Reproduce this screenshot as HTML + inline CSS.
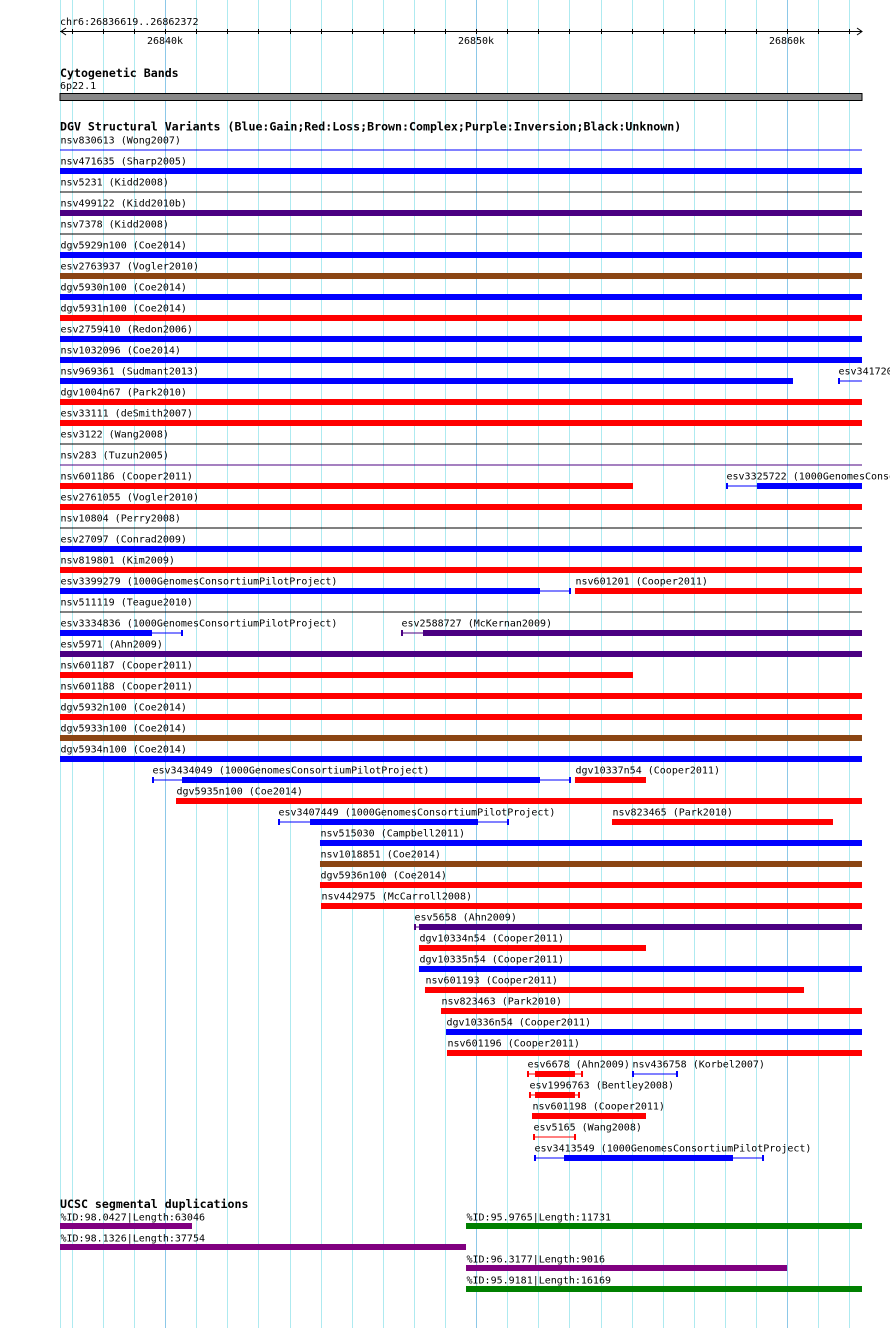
<!DOCTYPE html>
<html><head><meta charset="utf-8"><style>
html,body{margin:0;padding:0;background:#fff;}
svg{display:block;}
text{font-family:"DejaVu Sans Mono","Liberation Mono",monospace;font-size:10px;fill:#000;}
.hdr{font-weight:bold;font-size:11.6px;}
</style></head><body>
<svg id="chart" width="890" height="1328" xmlns="http://www.w3.org/2000/svg">
<g id="grid"></g>
<g id="axis"></g>
<g id="tracks"></g>
</svg>
<script>
const viewStart = 26836.619, viewEnd = 26862.372;
const axisTicks = [26837,26838,26839,26840,26841,26842,26843,26844,26845,26846,26847,26848,26849,26850,26851,26852,26853,26854,26855,26856,26857,26858,26859,26860,26861,26862];
const axisLabels = [26840,26850,26860];
// DGV features
const featRow = [0,1,2,3,4,5,6,7,8,9,10,11,11,12,13,14,15,16,16,17,18,19,20,21,21,22,23,23,24,25,26,27,28,29,30,30,31,32,32,33,34,35,36,37,38,39,40,41,42,43,44,44,45,46,47,48];
const featName = ["nsv830613 (Wong2007)","nsv471635 (Sharp2005)","nsv5231 (Kidd2008)","nsv499122 (Kidd2010b)","nsv7378 (Kidd2008)","dgv5929n100 (Coe2014)","esv2763937 (Vogler2010)","dgv5930n100 (Coe2014)","dgv5931n100 (Coe2014)","esv2759410 (Redon2006)","nsv1032096 (Coe2014)","nsv969361 (Sudmant2013)","esv3417200 (1000GenomesConsortiumPilotProject)","dgv1004n67 (Park2010)","esv33111 (deSmith2007)","esv3122 (Wang2008)","nsv283 (Tuzun2005)","nsv601186 (Cooper2011)","esv3325722 (1000GenomesConsortiumPilotProject)","esv2761055 (Vogler2010)","nsv10804 (Perry2008)","esv27097 (Conrad2009)","nsv819801 (Kim2009)","esv3399279 (1000GenomesConsortiumPilotProject)","nsv601201 (Cooper2011)","nsv511119 (Teague2010)","esv3334836 (1000GenomesConsortiumPilotProject)","esv2588727 (McKernan2009)","esv5971 (Ahn2009)","nsv601187 (Cooper2011)","nsv601188 (Cooper2011)","dgv5932n100 (Coe2014)","dgv5933n100 (Coe2014)","dgv5934n100 (Coe2014)","esv3434049 (1000GenomesConsortiumPilotProject)","dgv10337n54 (Cooper2011)","dgv5935n100 (Coe2014)","esv3407449 (1000GenomesConsortiumPilotProject)","nsv823465 (Park2010)","nsv515030 (Campbell2011)","nsv1018851 (Coe2014)","dgv5936n100 (Coe2014)","nsv442975 (McCarroll2008)","esv5658 (Ahn2009)","dgv10334n54 (Cooper2011)","dgv10335n54 (Cooper2011)","nsv601193 (Cooper2011)","nsv823463 (Park2010)","dgv10336n54 (Cooper2011)","nsv601196 (Cooper2011)","esv6678 (Ahn2009)","nsv436758 (Korbel2007)","esv1996763 (Bentley2008)","nsv601198 (Cooper2011)","esv5165 (Wang2008)","esv3413549 (1000GenomesConsortiumPilotProject)"];
const featStart = [26836,26836,26836,26836,26836,26836,26836,26836,26836,26836,26836,26836,26861.635,26836,26836,26836,26836,26836,26858.034,26836,26836,26836,26836,26836,26853.178,26836,26836,26847.584,26836,26836,26836,26836,26836,26836,26839.577,26853.178,26840.349,26843.629,26854.368,26844.979,26844.979,26844.979,26845.011,26848.002,26848.162,26848.162,26848.355,26848.870,26849.031,26849.063,26851.635,26855.011,26851.699,26851.796,26851.828,26851.860];
const featEnd = [26863,26863,26863,26863,26863,26863,26863,26863,26863,26863,26863,26860.188,26863,26863,26863,26863,26863,26855.043,26863,26863,26863,26863,26863,26853.050,26863,26863,26840.574,26863,26863,26855.043,26863,26863,26863,26863,26853.050,26855.461,26863,26851.056,26861.474,26863,26863,26863,26863,26863,26855.461,26863,26860.542,26863,26863,26863,26853.436,26856.490,26853.339,26855.461,26853.211,26859.256];
const featThickStart = [null,26836,null,26836,null,26836,26836,26836,26836,26836,26836,26836,null,26836,26836,null,null,26836,26859.031,26836,null,26836,26836,26836,26853.178,null,26836,26848.291,26836,26836,26836,26836,26836,26836,26840.542,26853.178,26840.349,26844.658,26854.368,26844.979,26844.979,26844.979,26845.011,26848.162,26848.162,26848.162,26848.355,26848.870,26849.031,26849.063,26851.892,null,26851.892,26851.796,null,26852.825];
const featThickEnd = [null,26863,null,26863,null,26863,26863,26863,26863,26863,26863,26860.188,null,26863,26863,null,null,26855.043,26863,26863,null,26863,26863,26852.053,26863,null,26839.577,26863,26863,26855.043,26863,26863,26863,26863,26852.053,26855.461,26863,26850.060,26861.474,26863,26863,26863,26863,26863,26855.461,26863,26860.542,26863,26863,26863,26853.178,null,26853.178,26855.461,null,26858.259];
const featType = ["gain","gain","unknown","inversion","unknown","gain","complex","gain","loss","gain","gain","gain","gain","loss","loss","unknown","inversion","loss","gain","loss","unknown","gain","loss","gain","loss","unknown","gain","inversion","inversion","loss","loss","loss","complex","gain","gain","loss","loss","gain","loss","gain","complex","loss","loss","inversion","loss","gain","loss","loss","gain","loss","loss","gain","loss","loss","loss","gain"];
// segmental duplications
const segRow = [0,0,1,2,3];
const segId = ["98.0427","95.9765","98.1326","96.3177","95.9181"];
const segLen = ["63046","11731","37754","9016","16169"];
const segStart = [26836.6,26849.674,26836.6,26849.674,26849.674];
const segEnd = [26840.863,26863,26849.674,26859.995,26863];
const segColor = ["purple","green","purple","purple","green"];

const X0 = 60, X1 = 862, PX = 31.1;
const colors = {gain:"#0000ff",loss:"#ff0000",complex:"#8b4513",inversion:"#4b0082",unknown:"#000000",purple:"#800080",green:"#008000"};
const NS = "http://www.w3.org/2000/svg";
function xs(kb){ return X0 + (kb - viewStart) * PX; }
function cx(v){ return Math.max(X0, Math.min(X1, v)); }
function mk(parent, tag, attrs){ const e=document.createElementNS(NS,tag); for(const k in attrs) e.setAttribute(k,attrs[k]); parent.appendChild(e); return e; }

const grid = document.getElementById('grid');
let gl = mk(grid,'rect',{x:60,y:0,width:1,height:1328,fill:"#aeeaf0"});


axisTicks.forEach(t=>{
  const major = axisLabels.includes(t);
  const r = mk(grid,'rect',{x:Math.round(xs(t)),y:0,width:1,height:1328,fill:major?"#8cc8e8":"#aeeaf0"});
  
  
});

const axis = document.getElementById('axis');
let t0 = mk(axis,'text',{x:60,y:25}); t0.textContent="chr6:26836619..26862372";


let al = mk(axis,'rect',{x:60,y:31,width:802,height:1,fill:"#000"});


let la = mk(axis,'path',{d:"M66,28 L61,31.5 L66,35",stroke:"#000",fill:"none"});


let ra = mk(axis,'path',{d:"M857,28 L862,31.5 L857,35",stroke:"#000",fill:"none"});


axisTicks.forEach(t=>{
  const tk = mk(axis,'rect',{x:Math.round(xs(t)),y:29,width:1,height:5,fill:"#000"});
  
  
});
axisLabels.forEach(t=>{
  const tx = mk(axis,'text',{x:Math.round(xs(t)),y:44,'text-anchor':'middle'});
  tx.textContent = t + "k";
  
  
});

const tracks = document.getElementById('tracks');
let h1 = mk(tracks,'text',{x:60,y:77,class:'hdr'}); h1.textContent="Cytogenetic Bands";


let bl = mk(tracks,'text',{x:60,y:89}); bl.textContent="6p22.1";


let band = mk(tracks,'rect',{x:60,y:93.5,width:802,height:7,fill:"#888",stroke:"#000","stroke-width":1});



let h2 = mk(tracks,'text',{x:60,y:130.5,class:'hdr'}); h2.textContent="DGV Structural Variants (Blue:Gain;Red:Loss;Brown:Complex;Purple:Inversion;Black:Unknown)";



featRow.forEach((row,i)=>{
  const y0 = 135 + row*21;
  const col = colors[featType[i]];
  const g = mk(tracks,'g',{});
  
  
  const sx = xs(featStart[i]), ex = xs(featEnd[i]);
  const lx = cx(sx);
  const lbl = mk(g,'text',{x:lx+0.5,y:y0+8.5}); lbl.textContent = featName[i];
  
  
  const a = cx(sx), b = cx(ex);
  const ln = mk(g,'rect',{x:a,y:y0+14.5,width:Math.max(0,b-a),height:1,fill:col});
  
  
  if (featThickStart[i]!==null){
    const ta = cx(xs(featThickStart[i])), tb = cx(xs(featThickEnd[i]));
    const th = mk(g,'rect',{x:ta,y:y0+12,width:Math.max(0,tb-ta),height:6,fill:col});
    
    
  }
  if (sx >= X0 && sx <= X1){
    const tk = mk(g,'rect',{x:sx,y:y0+12,width:2,height:6,fill:col});
    
    
  }
  if (ex >= X0 && ex <= X1){
    const tk = mk(g,'rect',{x:ex-2,y:y0+12,width:2,height:6,fill:col});
    
    
  }
});

let h3 = mk(tracks,'text',{x:60,y:1208,class:'hdr'}); h3.textContent="UCSC segmental duplications";


segRow.forEach((row,i)=>{
  const y0 = 1212 + row*21;
  const a = cx(xs(segStart[i])), b = cx(xs(segEnd[i]));
  const g = mk(tracks,'g',{});
  
  
  const lbl = mk(g,'text',{x:a+0.5,y:y0+8.5}); lbl.textContent = "%ID:"+segId[i]+"|Length:"+segLen[i];
  
  
  const r = mk(g,'rect',{x:a,y:y0+11,width:b-a,height:6,fill:colors[segColor[i]]});
  
  
});
</script>
</body></html>
